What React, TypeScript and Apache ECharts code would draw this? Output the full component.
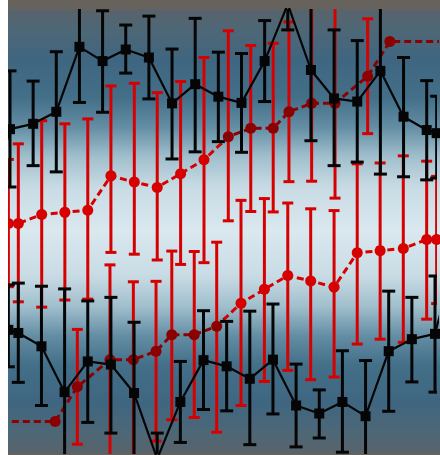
import React, { useEffect, useRef } from "react";
import * as echarts from "echarts";

// ---- data (x in sample units, y in value units 0..100) ----
const xMin = 0.914;
const xMax = 19.445;
const yMin = 0;
const yMax = 100;

const blackX = [0, 1, 2, 3, 4, 5, 6, 7, 8, 9, 10, 11, 12, 13, 14, 15, 16, 17, 18, 19, 19.43];
const blackY = [53.0, 73.0, 74.2, 76.9, 91.5, 88.3, 90.9, 89.1, 78.8, 83.1, 80.3, 78.9, 88.3, 101.1, 86.3, 79.9, 79.2, 86.1, 75.8, 72.8, 72.1];
const blackHigh = [60, 86.1, 83.8, 90.4, 104, 99.6, 96.4, 98.4, 91.0, 97.9, 90.3, 90.0, 97.4, 108, 104, 95.3, 92.9, 105, 89.1, 83.9, 80.4];
const blackLow = [46, 60.0, 64.8, 63.4, 79.0, 76.8, 85.6, 79.8, 66.3, 67.9, 70.2, 67.8, 79.2, 95.3, 70.4, 64.8, 65.6, 62.9, 62.3, 61.6, 62.0];

const redX = [0.93, 1.36, 2.37, 3.37, 4.36, 5.36, 6.37, 7.36, 8.37, 9.38, 10.43, 11.4, 12.37, 13.05, 14.03, 15.04, 16.45, 17.41, 20.5];
const redY = [51.8, 51.8, 53.8, 54.3, 54.8, 62.5, 61.1, 59.9, 63.0, 66.1, 71.3, 73.2, 73.2, 76.9, 78.8, 78.8, 84.9, 92.7, 92.7];
const redHigh = [66.2, 69.7, 74.9, 74.2, 75.3, 82.7, 83.3, 81.2, 83.7, 89.1, 95.1, 91.8, 92.3, 97.1, 104, 104, 97.8];
const redLow = [37.6, 34.2, 33.0, 34.6, 34.8, 45.3, 44.9, 43.6, 42.6, 43.0, 52.4, 54.5, 54.4, 61.2, 61.3, 57.5, 72.0];
const redSplit = 10.1;

const BLACK = "#050505";
const RED = "#d60000";
const DARK_RED = "#8b0000";

function errorBar(capWidth: number, color: string, lineWidth: number) {
  return (params: any, api: any) => {
    const x = api.value(0);
    const lo = api.value(1);
    const hi = api.value(2);
    const top = api.coord([x, hi]);
    const bot = api.coord([x, lo]);
    const h = capWidth / 2;
    const style = { stroke: color, lineWidth };
    return {
      type: "group",
      children: [
        { type: "line", shape: { x1: top[0], y1: top[1], x2: bot[0], y2: bot[1] }, style },
        { type: "line", shape: { x1: top[0] - h, y1: top[1], x2: top[0] + h, y2: top[1] }, style },
        { type: "line", shape: { x1: bot[0] - h, y1: bot[1], x2: bot[0] + h, y2: bot[1] }, style },
      ],
    };
  };
}

export default function App() {
  const ref = useRef<HTMLDivElement>(null);
  useEffect(() => {
    const chart = echarts.init(ref.current!, null, { renderer: "svg" });
    const blackPts = blackX.map((x, i) => [x, blackY[i]]);
    const blackBars = blackX.map((x, i) => [x, blackLow[i], blackHigh[i]]);
    const redPts = redX.map((x, i) => [x, redY[i]]);
    const redBars = redHigh.map((h, i) => [redX[i], redLow[i], h]);

    const grid = { left: 0, top: 9, width: 429, height: 445, containLabel: false };
    const xAxis = (gridIndex: number, inverse: boolean) => ({
      type: "value", gridIndex, min: xMin, max: xMax, inverse, show: false, splitLine: { show: false },
    });
    const yAxis = (gridIndex: number, inverse: boolean) => ({
      type: "value", gridIndex, min: yMin, max: yMax, inverse, show: false, splitLine: { show: false },
    });

    const series: any[] = [];
    [0, 1].forEach((g) => {
      series.push({
        type: "custom", name: "redErr" + g, xAxisIndex: g, yAxisIndex: g, clip: true, z: 2,
        encode: { x: 0, y: [1, 2] }, renderItem: errorBar(11, RED, 3), data: redBars,
      });
    });
    [0, 1].forEach((g) => {
      series.push({
        type: "line", name: "red" + g, xAxisIndex: g, yAxisIndex: g, clip: true, z: 3,
        symbol: "circle", symbolSize: 11, showSymbol: true,
        lineStyle: { width: 3, type: [7, 4] }, data: redPts,
      });
    });
    [0, 1].forEach((g) => {
      series.push({
        type: "custom", name: "blackErr" + g, xAxisIndex: g, yAxisIndex: g, clip: true, z: 4,
        encode: { x: 0, y: [1, 2] }, renderItem: errorBar(13, BLACK, 3), data: blackBars,
      });
    });
    [0, 1].forEach((g) => {
      series.push({
        type: "line", name: "black" + g, xAxisIndex: g, yAxisIndex: g, clip: true, z: 5,
        symbol: "rect", symbolSize: 10, showSymbol: true,
        itemStyle: { color: BLACK }, lineStyle: { width: 2.2, color: BLACK }, data: blackPts,
      });
    });

    chart.setOption({
      animation: false,
      backgroundColor: "#67625c",
      graphic: [
        {
          type: "rect", left: 0, top: 9, z: 0, silent: true,
          shape: { width: 432, height: 445 },
          style: {
            fill: new echarts.graphic.LinearGradient(0, 0, 0, 1, [
              { offset: 0, color: "#59636a" },
              { offset: 0.045, color: "#4e6776" },
              { offset: 0.115, color: "#3f6680" },
              { offset: 0.2, color: "#436f89" },
              { offset: 0.265, color: "#638da3" },
              { offset: 0.33, color: "#9fbecc" },
              { offset: 0.4, color: "#c8dbe4" },
              { offset: 0.5, color: "#dae8ef" },
              { offset: 0.6, color: "#c8dbe4" },
              { offset: 0.67, color: "#9fbecc" },
              { offset: 0.735, color: "#638da3" },
              { offset: 0.8, color: "#436f89" },
              { offset: 0.885, color: "#3f6680" },
              { offset: 0.955, color: "#4e6776" },
              { offset: 1, color: "#59636a" },
            ]),
          },
        },
      ],
      grid: [grid, grid],
      xAxis: [xAxis(0, false), xAxis(1, true)],
      yAxis: [yAxis(0, false), yAxis(1, true)],
      visualMap: {
        type: "piecewise", show: false, dimension: 0, seriesIndex: [2, 3],
        pieces: [
          { min: -100, max: redSplit, color: RED },
          { min: redSplit, max: 100, color: DARK_RED },
        ],
      },
      series,
    });
    return () => chart.dispose();
  }, []);
  return <div ref={ref} style={{ position: "absolute", left: 8, top: 0, width: 432, height: 455 }} />;
}
